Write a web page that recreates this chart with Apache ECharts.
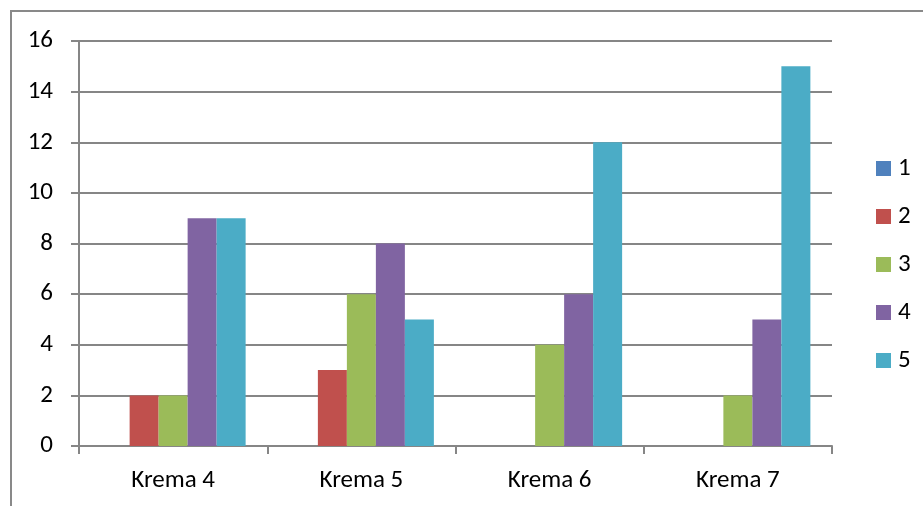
<!DOCTYPE html>
<html>
<head>
<meta charset="utf-8">
<script src="https://cdn.jsdelivr.net/npm/echarts@6/dist/echarts.min.js"></script>
<style>
    html, body { margin: 0; padding: 0; background: #fff; }
    #chart { width: 923px; height: 506px; }
</style>
</head>
<body>
<div id="chart"></div>
<script>
// 类别与数据
var categories = ['Krema 4', 'Krema 5', 'Krema 6', 'Krema 7'];
var seriesNames = ['1', '2', '3', '4', '5'];
var s1 = [0, 0, 0, 0];
var s2 = [2, 3, 0, 0];
var s3 = [2, 6, 4, 2];
var s4 = [9, 8, 6, 5];
var s5 = [9, 5, 12, 15];
var yTicks = [0, 2, 4, 6, 8, 10, 12, 14, 16];

var colors = ['#4F81BD', '#C0504D', '#9BBB59', '#8064A2', '#4BACC6'];
var allData = [s1, s2, s3, s4, s5];
var font = 'Carlito, "Open Sans", "Noto Sans", sans-serif';

var chart = echarts.init(document.getElementById('chart'));

var series = [];
for (var i = 0; i < allData.length; i++) {
    series.push({
        name: seriesNames[i],
        type: 'bar',
        data: allData[i],
        barWidth: 29,
        barGap: '0%',
        itemStyle: { color: colors[i] }
    });
}

var option = {
    animation: false,
    color: colors,
    graphic: [{
        type: 'rect',
        shape: { x: 11, y: 11, width: 1000, height: 600 },
        style: { fill: 'none', stroke: '#898989', lineWidth: 2 },
        z: -1
    }],
    grid: { left: 79, top: 41, right: 91, bottom: 60 },
    legend: {
        orient: 'vertical',
        left: 871,
        top: 151,
        itemWidth: 15,
        itemHeight: 15,
        itemGap: 23,
        icon: 'rect',
        textStyle: { fontSize: 25, lineHeight: 25, color: '#000', fontFamily: font, padding: [0, 0, 0, 2] },
        data: seriesNames
    },
    xAxis: {
        type: 'category',
        data: categories,
        axisLine: { lineStyle: { color: '#868686', width: 2 } },
        axisTick: { show: true, length: 8, alignWithLabel: false, lineStyle: { color: '#868686', width: 2 } },
        axisLabel: { fontSize: 25, color: '#000', fontFamily: font, margin: 22 }
    },
    yAxis: {
        type: 'value',
        min: yTicks[0],
        max: yTicks[yTicks.length - 1],
        interval: 2,
        axisLine: { show: true, lineStyle: { color: '#868686', width: 2 } },
        axisTick: { show: true, length: 8, lineStyle: { color: '#868686', width: 2 } },
        splitLine: { lineStyle: { color: '#868686', width: 2 } },
        axisLabel: { fontSize: 25, color: '#000', fontFamily: font, margin: 26 }
    },
    series: series
};

chart.setOption(option);
</script>
</body>
</html>
